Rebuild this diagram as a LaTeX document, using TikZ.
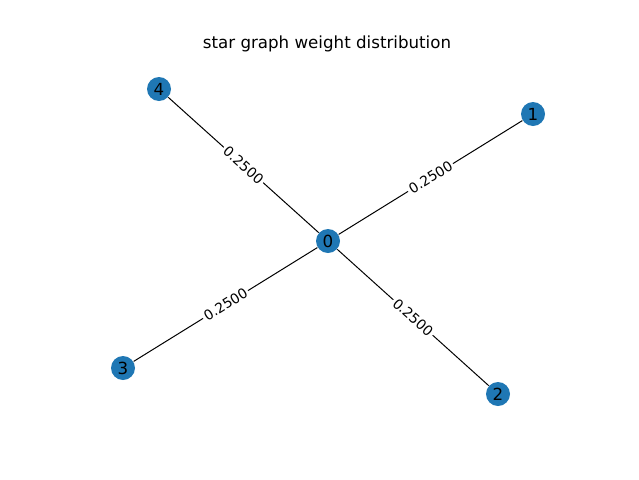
\documentclass[tikz,border=0pt]{standalone}
\usepackage{fontspec}
\setmainfont{DejaVu Sans}
\definecolor{nxblue}{RGB}{31,119,180}
\tikzset{every picture/.style={line width=0.75pt}}
\tikzset{
  vert/.style={circle, fill=nxblue, inner sep=0pt, minimum size=18pt, font=\fontsize{12.5}{14}\selectfont},
  wlabel/.style={fill=white, inner sep=1.5pt, font=\fontsize{10.4}{12}\selectfont}
}
\begin{document}
\begin{tikzpicture}[x=0.75pt,y=0.75pt,yscale=-1,xscale=1]
	\useasboundingbox (0,0) rectangle (639,479);
	% Title
	\node (title) at (327,44) {\fontsize{12.5}{14}\selectfont star graph weight distribution};
	% Vertices
	\node [vert] (n0) at (328,241) {0};
	\node [vert] (n1) at (533,114) {1};
	\node [vert] (n2) at (498,394) {2};
	\node [vert] (n3) at (123,368) {3};
	\node [vert] (n4) at (159,89) {4};
	% Edges
	\draw (n0) -- (n1) node [wlabel, midway, rotate=31.8] {0.2500};
	\draw (n0) -- (n2) node [wlabel, midway, rotate=-42] {0.2500};
	\draw (n0) -- (n3) node [wlabel, midway, rotate=31.8] {0.2500};
	\draw (n0) -- (n4) node [wlabel, midway, rotate=-42] {0.2500};
\end{tikzpicture}
\end{document}
